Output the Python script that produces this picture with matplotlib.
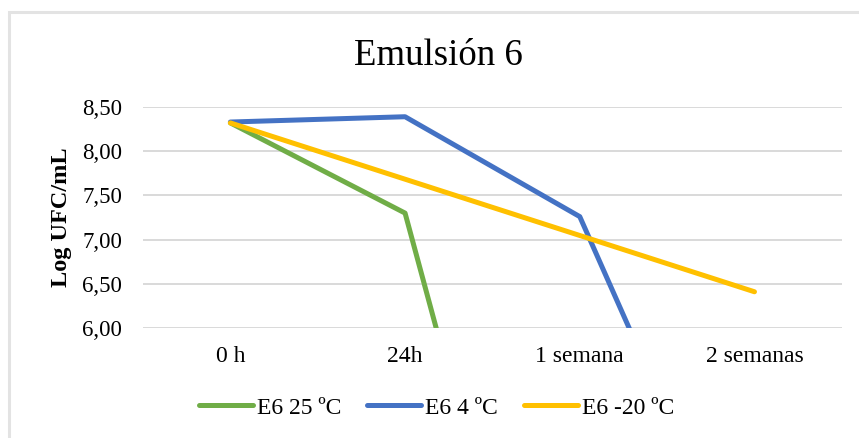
import numpy as np
import matplotlib.pyplot as plt
from matplotlib.patches import Rectangle

categories = ['0 h', '24h', '1 semana', '2 semanas']
e6_25 = [8.32, 7.30, 0.0, 0.0]
e6_4 = [8.33, 8.39, 7.26, 2.8]
e6_m20 = [8.32, np.nan, np.nan, 6.41]   # sin datos intermedios, Excel une los puntos
labels = ['E6 25 ºC', 'E6 4 ºC', 'E6 -20 ºC']
colors = ['#70AD47', '#4472C4', '#FFC000']
yticks = [6.0, 6.5, 7.0, 7.5, 8.0, 8.5]

plt.rcParams['font.family'] = ['Liberation Serif', 'DejaVu Serif']

fig = plt.figure(figsize=(8.59, 4.38), dpi=100)
ax = fig.add_axes([0.1665, 0.2511, 0.8135, 0.5046])

# borde del area del grafico
fig.patches.append(Rectangle((9 / 859, -0.1), 1.1, 1 - 11.5 / 438 + 0.1,
                             transform=fig.transFigure, fill=False,
                             edgecolor='#e3e3e3', lw=2.2))

x = np.arange(len(categories))
for vals, lab, c in zip([e6_25, e6_4, e6_m20], labels, colors):
    v = np.array(vals, dtype=float)
    m = np.isfinite(v)
    ax.plot(x[m], v[m], color=c, lw=3.6, label=lab,
            solid_joinstyle='round', solid_capstyle='round', zorder=3)

ax.set_xlim(-0.5, 3.5)
ax.set_ylim(6.0, 8.5)
ax.set_xticks(x)
ax.set_xticklabels(categories, fontsize=17)
ax.set_yticks(yticks)
ax.set_yticklabels([('%.2f' % t).replace('.', ',') for t in yticks], fontsize=16.5)
ax.tick_params(length=0)
ax.tick_params(axis='y', pad=15)
ax.tick_params(axis='x', pad=13)
ax.grid(axis='y', color='#d9d9d9', lw=1.4, zorder=0)
for s in ax.spines.values():
    s.set_visible(False)
ax.set_ylabel('Log UFC/mL', fontsize=17.5, fontweight='bold')
ax.yaxis.set_label_coords(-0.102, 0.5)

fig.text(0.51, 1 - 56 / 438, 'Emulsión 6', ha='center', va='center', fontsize=26.5)

fig.legend(loc='center', bbox_to_anchor=(0.508, 1 - 408 / 438), ncol=3,
           frameon=False, fontsize=17, handlelength=2.3, handletextpad=0.15,
           columnspacing=1.1)

fig.savefig('out.png', dpi=100)
